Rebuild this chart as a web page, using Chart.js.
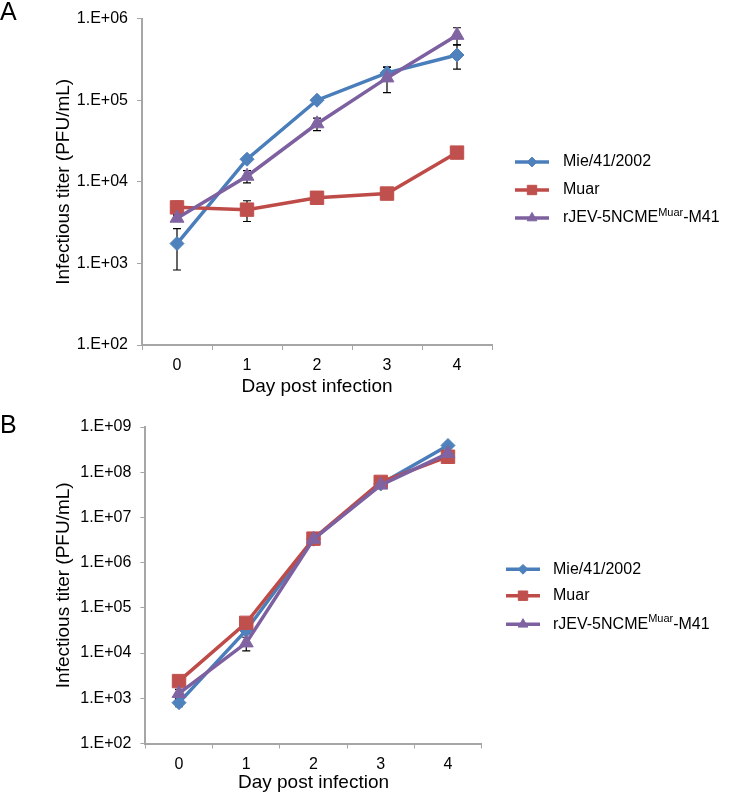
<!DOCTYPE html>
<html>
<head>
<meta charset="utf-8">
<script src="https://cdn.jsdelivr.net/npm/chart.js@4.4.0/dist/chart.umd.min.js"></script>
<style>
  body { margin: 0; background: #fff; }
  .panel { position: absolute; left: 0; width: 735px; }
</style>
</head>
<body>
<div class="panel" style="top:0"><canvas id="chartA" width="735" height="400"></canvas></div>
<div class="panel" style="top:400px"><canvas id="chartB" width="735" height="394"></canvas></div>
<script>
// Days and tick values
const days = ['0', '1', '2', '3', '4'];
const yTicksA = [1e2, 1e3, 1e4, 1e5, 1e6];
const yTicksB = [1e2, 1e3, 1e4, 1e5, 1e6, 1e7, 1e8, 1e9];

// Panel A titers (PFU/mL) and error bars
const mieA = [1750, 18900, 100000, 216000, 358000];
const mieAErr = [920, 1200, 6000, 41000, 118000];
const muarA = [4860, 4560, 6370, 7170, 22800];
const muarAErr = [880, 1300, 500, 600, 2000];
const rjevA = [3580, 11700, 51400, 187600, 624000];
const rjevAErr = [300, 2000, 9000, 64000, 148000];

// Panel B titers (PFU/mL) and error bars
const mieB = [800, 32000, 3.3e6, 5.5e7, 3.9e8];
const mieBErr = [150, 5000, 4e5, 5e6, 3e7];
const muarB = [2400, 46600, 3.4e6, 6.1e7, 2.2e8];
const muarBErr = [200, 5000, 3e5, 5e6, 6e7];
const rjevB = [1280, 16800, 3.3e6, 5.2e7, 2.6e8];
const rjevBErr = [300, 5600, 8e5, 5e6, 3e7];

const FONT = "'Liberation Sans', Arial, sans-serif";
const AXIS_GREY = '#a6a6a6';

const seriesStyle = [
    { parts: [['Mie/41/2002', false]], line: '#4A7EBB', fill: '#4F81BD', point: 'rectRot', radius: 7, order: 3 },
    { parts: [['Muar', false]], line: '#BE4B48', fill: '#C0504D', point: 'rect', radius: 9.5, order: 2 },
    { parts: [['rJEV-5NCME', false], ['Muar', true], ['-M41', false]], line: '#7D60A0', fill: '#8064A2', point: 'triangle', radius: 8, order: 1 }
];

function expLabel(v) {
    return '1.E+' + String(Math.round(Math.log10(v))).padStart(2, '0');
}

const errorBars = {
    id: 'errorBars',
    beforeDatasetsDraw(chart) {
        const ctx = chart.ctx;
        const y = chart.scales.y;
        ctx.save();
        ctx.strokeStyle = '#000';
        ctx.lineWidth = 1.2;
        chart.data.datasets.forEach((ds, i) => {
            const meta = chart.getDatasetMeta(i);
            ds.errors.forEach((e, j) => {
                if (!e) return;
                const x = meta.data[j].x;
                const top = y.getPixelForValue(ds.data[j] + e);
                const bot = y.getPixelForValue(Math.max(ds.data[j] - e, 1));
                ctx.beginPath();
                ctx.moveTo(x, top); ctx.lineTo(x, bot);
                ctx.moveTo(x - 4, top); ctx.lineTo(x + 4, top);
                ctx.moveTo(x - 4, bot); ctx.lineTo(x + 4, bot);
                ctx.stroke();
            });
        });
        ctx.restore();
    }
};

const sideLegend = {
    id: 'sideLegend',
    afterDraw(chart, args, opts) {
        const ctx = chart.ctx;
        ctx.save();
        chart.data.datasets.forEach((ds, i) => {
            const st = seriesStyle[i];
            const y = opts.rows[i];
            ctx.strokeStyle = st.line;
            ctx.lineWidth = 3.5;
            ctx.beginPath();
            ctx.moveTo(opts.lineX, y);
            ctx.lineTo(opts.lineX + opts.lineW, y);
            ctx.stroke();
            ctx.fillStyle = st.fill;
            ctx.strokeStyle = st.fill;
            ctx.lineWidth = 1;
            Chart.helpers.drawPoint(ctx, { pointStyle: st.point, radius: st.radius * 0.7, rotation: 0, borderWidth: 1 }, opts.lineX + opts.lineW / 2, y);
            let x = opts.textX;
            ctx.fillStyle = '#000';
            ctx.textBaseline = 'middle';
            ctx.textAlign = 'left';
            st.parts.forEach(([txt, sup]) => {
                ctx.font = (sup ? '11px ' : '16px ') + FONT;
                ctx.fillText(txt, x, sup ? y - 5 : y);
                x += ctx.measureText(txt).width;
            });
        });
        ctx.font = '25px ' + FONT;
        ctx.textBaseline = 'alphabetic';
        ctx.fillStyle = '#000';
        ctx.fillText(opts.letter, 0, opts.letterY);
        ctx.restore();
    }
};

function buildChart(id, p) {
    return new Chart(document.getElementById(id), {
        type: 'line',
        data: {
            labels: days,
            datasets: p.values.map((vals, i) => ({
                label: seriesStyle[i].parts.map(q => q[0]).join(''),
                data: vals,
                errors: p.errors[i],
                order: seriesStyle[i].order,
                borderColor: seriesStyle[i].line,
                backgroundColor: seriesStyle[i].fill,
                pointBackgroundColor: seriesStyle[i].fill,
                pointBorderColor: seriesStyle[i].fill,
                pointStyle: seriesStyle[i].point,
                pointRadius: seriesStyle[i].radius,
                pointBorderWidth: 1,
                borderWidth: 3.5,
                tension: 0,
                fill: false
            }))
        },
        options: {
            responsive: false,
            animation: false,
            layout: { padding: { left: 0, right: p.padRight, top: p.padTop, bottom: 0 } },
            plugins: {
                legend: { display: false },
                tooltip: { enabled: false },
                sideLegend: p.legend
            },
            scales: {
                x: {
                    type: 'category',
                    offset: true,
                    grid: { offset: true, drawOnChartArea: false, tickLength: 5, color: AXIS_GREY },
                    border: { color: AXIS_GREY, width: 2 },
                    ticks: { color: '#000', font: { size: 16, family: FONT }, padding: 6, maxRotation: 0 },
                    title: { display: true, text: 'Day post infection', color: '#000', font: { size: 19, family: FONT }, padding: { top: 0, bottom: p.titlePad } },
                    afterFit: s => { s.height = p.xHeight; }
                },
                y: {
                    type: 'logarithmic',
                    min: p.yTicks[0],
                    max: p.yTicks[p.yTicks.length - 1],
                    afterBuildTicks: s => { s.ticks = p.yTicks.map(v => ({ value: v })); },
                    grid: { drawOnChartArea: false, tickLength: 5, color: AXIS_GREY },
                    border: { color: AXIS_GREY, width: 2 },
                    ticks: { color: '#000', font: { size: 16, family: FONT }, padding: 9, callback: v => expLabel(v) },
                    title: { display: true, text: 'Infectious titer (PFU/mL)', color: '#000', font: { size: 19, family: FONT }, padding: { top: 52 } },
                    afterFit: s => { s.width = p.yWidth; }
                }
            }
        },
        plugins: [errorBars, sideLegend]
    });
}

document.addEventListener('DOMContentLoaded', () => {
    buildChart('chartA', {
        values: [mieA, muarA, rjevA],
        errors: [mieAErr, muarAErr, rjevAErr],
        yTicks: yTicksA,
        yWidth: 142, xHeight: 55, padTop: 13, padRight: 243, titlePad: 1.6,
        legend: { lineX: 515, lineW: 34, textX: 563, rows: [162, 190, 218], letter: 'A', letterY: 20 }
    });
    buildChart('chartB', {
        values: [mieB, muarB, rjevB],
        errors: [mieBErr, muarBErr, rjevBErr],
        yTicks: yTicksB,
        yWidth: 145.4, xHeight: 50.5, padTop: 27, padRight: 253.4, titlePad: 0,
        legend: { lineX: 506, lineW: 34, textX: 553, rows: [169.3, 195.7, 224.3], letter: 'B', letterY: 33 }
    });
});
</script>
</body>
</html>
